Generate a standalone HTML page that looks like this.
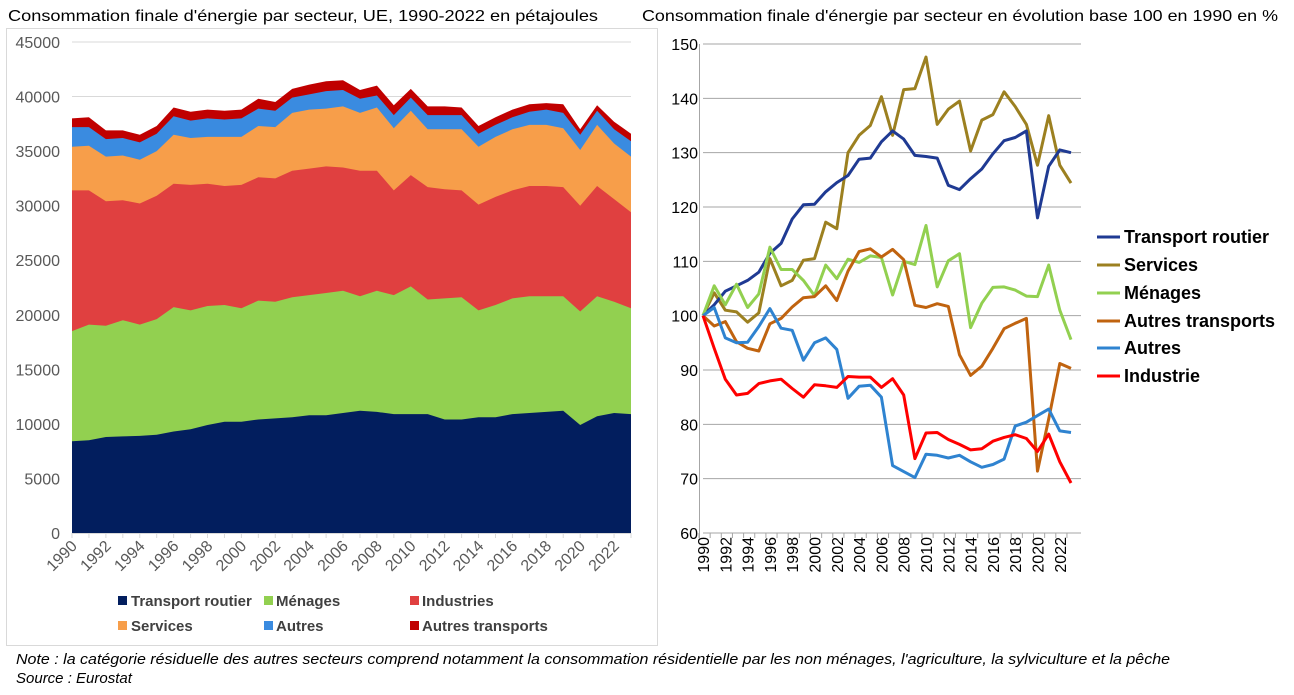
<!DOCTYPE html>
<html><head><meta charset="utf-8"><style>
body{margin:0;width:1294px;height:690px;background:#fff;overflow:hidden;font-family:"Liberation Sans",sans-serif}
</style></head><body>
<svg id="s" width="1294" height="690" xmlns="http://www.w3.org/2000/svg" font-family="Liberation Sans, sans-serif">
<text x="8" y="21" font-size="16" fill="#000" textLength="590" lengthAdjust="spacingAndGlyphs">Consommation finale d'énergie par secteur, UE, 1990-2022 en pétajoules</text>
<text x="642" y="21" font-size="16" fill="#000" textLength="636" lengthAdjust="spacingAndGlyphs">Consommation finale d'énergie par secteur en évolution base 100 en 1990 en %</text>
<rect x="6.5" y="28.5" width="651" height="617" fill="none" stroke="#d9d9d9"/>
<g id="L"></g><g id="R"></g>
<g font-size="15" font-weight="bold" fill="#404040">
<rect x="118" y="596" width="9" height="9" fill="#021e5e"/><text x="131" y="606">Transport routier</text>
<rect x="264" y="596" width="9" height="9" fill="#92d050"/><text x="276" y="606">Ménages</text>
<rect x="410" y="596" width="9" height="9" fill="#e04040"/><text x="422" y="606">Industries</text>
<rect x="118" y="621" width="9" height="9" fill="#f79e4a"/><text x="131" y="631">Services</text>
<rect x="264" y="621" width="9" height="9" fill="#3a8be0"/><text x="276" y="631">Autres</text>
<rect x="410" y="621" width="9" height="9" fill="#c00000"/><text x="422" y="631">Autres transports</text>
</g>
<g font-size="18" font-weight="bold" fill="#000">
<line x1="1097" y1="237" x2="1120" y2="237" stroke="#1f3a93" stroke-width="3"/><text x="1124" y="243">Transport routier</text>
<line x1="1097" y1="265" x2="1120" y2="265" stroke="#9c8020" stroke-width="3"/><text x="1124" y="271">Services</text>
<line x1="1097" y1="293" x2="1120" y2="293" stroke="#92d050" stroke-width="3"/><text x="1124" y="299">Ménages</text>
<line x1="1097" y1="321" x2="1120" y2="321" stroke="#c0630f" stroke-width="3"/><text x="1124" y="327">Autres transports</text>
<line x1="1097" y1="348" x2="1120" y2="348" stroke="#2f83d0" stroke-width="3"/><text x="1124" y="354">Autres</text>
<line x1="1097" y1="376" x2="1120" y2="376" stroke="#ff0000" stroke-width="3"/><text x="1124" y="382">Industrie</text>
</g>
<g font-size="15" font-style="italic" fill="#000">
<text x="16" y="664" textLength="1154" lengthAdjust="spacingAndGlyphs">Note : la catégorie résiduelle des autres secteurs comprend notamment la consommation résidentielle par les non ménages, l'agriculture, la sylviculture et la pêche</text>
<text x="16" y="683">Source : Eurostat</text>
</g>
</svg>
<script>
var NS="http://www.w3.org/2000/svg";
function el(p,t,a,txt){var e=document.createElementNS(NS,t);for(var k in a)e.setAttribute(k,a[k]);if(txt!==undefined)e.textContent=txt;p.appendChild(e);return e;}
var L=document.getElementById('L'),R=document.getElementById('R');
var x0=72,x1=631,y0=533,yt=42;
function lx(i){return x0+i*(x1-x0)/33}
function ly(v){return y0-v*(y0-yt)/45}
for(var v=0;v<=45;v+=5){var y=ly(v);
 if(v>0)el(L,'line',{x1:x0,x2:x1,y1:y,y2:y,stroke:'#d9d9d9'});
 el(L,'text',{x:60,y:y+6,'font-size':16,fill:'#595959','text-anchor':'end'},String(v*1000));}
var S=[
[8.4,8.5,8.8,8.85,8.9,9.0,9.3,9.5,9.9,10.2,10.2,10.4,10.5,10.6,10.8,10.8,11.0,11.2,11.1,10.9,10.9,10.9,10.4,10.4,10.6,10.6,10.9,11.0,11.1,11.2,9.9,10.7,11.0,10.9],
[18.5,19.1,19.0,19.5,19.1,19.6,20.7,20.4,20.8,20.9,20.6,21.3,21.2,21.6,21.8,22.0,22.2,21.7,22.2,21.8,22.6,21.4,21.5,21.6,20.4,20.9,21.5,21.7,21.7,21.7,20.3,21.7,21.2,20.6],
[31.4,31.4,30.4,30.5,30.2,30.9,32.0,31.9,32.0,31.8,31.9,32.6,32.5,33.2,33.4,33.6,33.5,33.2,33.2,31.4,32.8,31.7,31.5,31.4,30.1,30.8,31.4,31.8,31.8,31.7,30.0,31.8,30.6,29.4],
[35.4,35.5,34.5,34.6,34.2,35.0,36.5,36.2,36.3,36.3,36.3,37.3,37.2,38.5,38.8,38.9,39.1,38.5,39.0,37.1,38.7,37.0,37.0,37.0,35.4,36.3,37.0,37.4,37.4,37.1,35.1,37.4,35.7,34.5],
[37.2,37.2,36.1,36.2,35.8,36.6,38.2,37.8,38.0,37.9,38.0,38.9,38.7,39.9,40.2,40.5,40.6,39.8,40.1,38.3,39.9,38.3,38.3,38.3,36.6,37.4,38.1,38.6,38.8,38.5,36.5,38.7,37.0,35.9],
[38.0,38.1,36.9,36.9,36.5,37.3,39.0,38.6,38.8,38.7,38.8,39.8,39.5,40.7,41.1,41.4,41.5,40.6,41.0,39.2,40.7,39.1,39.1,39.0,37.3,38.1,38.8,39.3,39.4,39.3,37.0,39.2,37.7,36.6]];
var LC=['#021e5e','#92d050','#e04040','#f79e4a','#3a8be0','#c00000'];
for(var s=5;s>=0;s--){var d='M'+x0+','+y0;for(var i=0;i<34;i++)d+='L'+lx(i).toFixed(1)+','+ly(S[s][i]).toFixed(1);d+='L'+x1+','+y0+'Z';el(L,'path',{d:d,fill:LC[s]});}
el(L,'line',{x1:x0,x2:x1,y1:y0+.5,y2:y0+.5,stroke:'#d9d9d9'});
for(var i=0;i<34;i++){el(L,'line',{x1:lx(i),x2:lx(i),y1:y0,y2:y0+5,stroke:'#d9d9d9'});
 if(i%2==0){var tx=lx(i)+6,ty=y0+14;el(L,'text',{x:tx,y:ty,'font-size':16,fill:'#595959','text-anchor':'end',transform:'rotate(-45 '+tx+' '+ty+')'},String(1990+i));}}
var rx0=703,rx1=1071,ry0=533,ryt=44;
function rx(i){return rx0+i*(rx1-rx0)/33}
function ry(v){return ry0-(v-60)*(ry0-ryt)/90}
for(var v=60;v<=150;v+=10){var y=ry(v);
 el(R,'line',{x1:rx0,x2:1081,y1:y,y2:y,stroke:'#a6a6a6'});
 el(R,'text',{x:698,y:y+6,'font-size':16,fill:'#000','text-anchor':'end'},String(v));}
el(R,'line',{x1:rx0-3.5,x2:rx0-3.5,y1:ryt,y2:ry0+5,stroke:'#a6a6a6'});
for(var i=0;i<=33;i++){var xx=rx0-4+i*11.15;el(R,'line',{x1:xx,x2:xx,y1:ry0,y2:ry0+5,stroke:'#a6a6a6'});}
for(var i=0;i<34;i+=2){var tx=rx(i)+6,ty=ry0+4;el(R,'text',{x:tx,y:ty,'font-size':16,fill:'#000','text-anchor':'end',transform:'rotate(-90 '+tx+' '+ty+')'},String(1990+i));}
var RS=[
['#9c8020',[100,104.2,101,100.7,98.8,100.5,110.5,105.5,106.5,110.2,110.5,117.2,116,130,133.2,135,140.3,133.2,141.6,141.8,147.6,135.2,138,139.5,130.3,136,137,141.2,138.5,135.2,127.7,136.8,127.7,124.4]],
['#1f3a93',[100,102,104.5,105.5,106.5,108,111.5,113.3,117.8,120.4,120.5,122.8,124.5,125.8,128.8,129,132,134,132.5,129.5,129.3,129,124,123.2,125.2,127,129.8,132.2,132.8,134,118,127.5,130.5,130]],
['#92d050',[100,105.5,102,105.8,101.5,104,112.6,108.5,108.5,106.5,103.7,109.3,106.8,110.4,109.8,111,110.7,103.8,110,109.4,116.6,105.3,110.1,111.4,97.8,102.3,105.2,105.3,104.7,103.6,103.5,109.3,101,95.6]],
['#c0630f',[100,98.1,98.9,95.2,94,93.5,98.5,99.5,101.6,103.3,103.5,105.5,102.8,108.2,111.8,112.3,110.8,112.2,110.3,101.9,101.5,102.2,101.7,92.8,89,90.7,94,97.6,98.6,99.5,71.4,81,91.2,90.3]],
['#2f83d0',[100,101.5,95.9,95,95.1,98,101.3,97.7,97.3,91.8,95,95.9,93.8,84.8,87,87.2,85,72.4,71.3,70.2,74.5,74.3,73.8,74.3,73.1,72.1,72.6,73.6,79.7,80.4,81.6,82.8,78.8,78.5]],
['#ff0000',[100,94,88.3,85.4,85.7,87.5,88,88.3,86.6,85,87.3,87.1,86.8,88.8,88.7,88.7,86.8,88.4,85.4,73.7,78.4,78.5,77.2,76.3,75.3,75.5,76.9,77.6,78.1,77.4,75,78.2,73.1,69.2]]];
RS.forEach(function(r){var p='';for(var i=0;i<34;i++)p+=(i?'L':'M')+rx(i).toFixed(1)+','+ry(r[1][i]).toFixed(1);
 el(R,'path',{d:p,fill:'none',stroke:r[0],'stroke-width':3,'stroke-linejoin':'round'});});
</script>
</body></html>
